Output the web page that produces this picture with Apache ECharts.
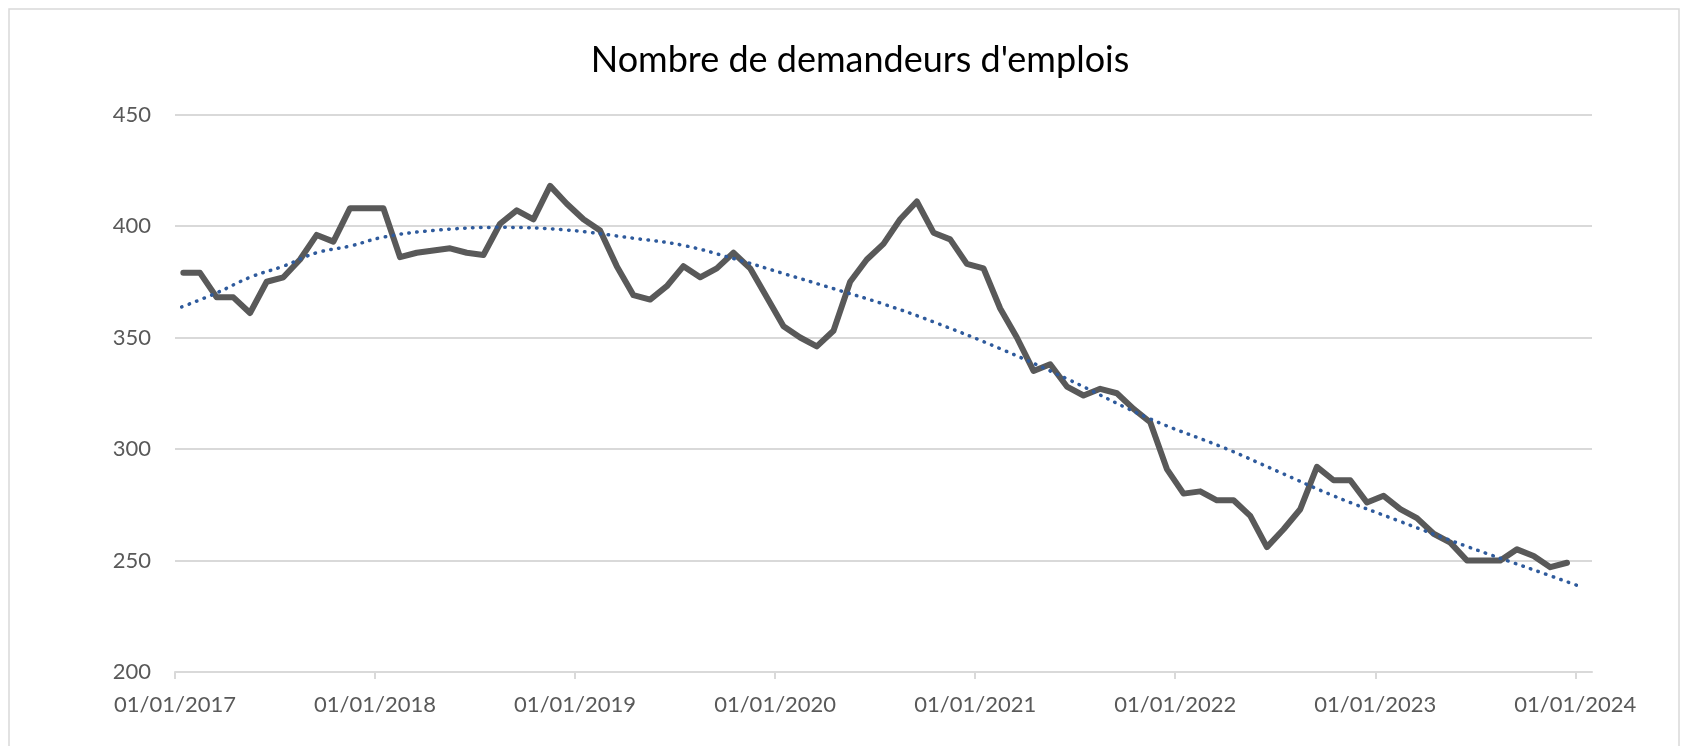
<!DOCTYPE html>
<html>
<head>
<meta charset="utf-8">
<script src="https://cdn.jsdelivr.net/npm/echarts@6/dist/echarts.min.js"></script>
<style>
  html, body { margin: 0; padding: 0; background: #fff; }
  #container { width: 1686px; height: 746px; }
</style>
</head>
<body>
<div id="container"></div>
<script>
var dom = document.getElementById("container");
var myChart = echarts.init(dom);

// monthly values, Jan 2017 -> Dec 2023
var startYear = 2017;
var values = [
    379, 379, 368, 368, 361, 375, 377, 385, 396, 393, 408, 408,
    408, 386, 388, 389, 390, 388, 387, 401, 407, 403, 418, 410,
    403, 398, 382, 369, 367, 373, 382, 377, 381, 388, 381, 368,
    355, 350, 346, 353, 375, 385, 392, 403, 411, 397, 394, 383,
    381, 363, 350, 335, 338, 328, 324, 327, 325, 318, 312, 291,
    280, 281, 277, 277, 270, 256, 264, 273, 292, 286, 286, 276,
    279, 273, 269, 262, 258, 250, 250, 250, 255, 252, 247, 249
];

// dotted trend line (x in months since Jan 2017)
var trendX = [0.4, 2.5, 4.5, 6.5, 8.5, 10.5, 12.5, 15.5, 19.5, 23.5, 27.5, 30.5, 33.5,
    36.5, 39.5, 42.5, 45.5, 49.5, 53.5, 58.5, 63, 66.2, 69.5, 73.5, 77.5, 81.5, 84.2];
var trendY = [363.7, 370, 377, 382, 388, 391, 395, 398, 399.4, 398.2, 394.5, 391.3, 385.4,
    378.7, 371.9, 365, 357, 345, 331.5, 313.5, 300.3, 289.8, 279, 267.5, 256.3, 245.8, 238.6];

var yearTicks = [0, 12, 24, 36, 48, 60, 72, 84];

var lineData = values.map(function (v, i) { return [i + 0.5, v]; });
var trendData = trendX.map(function (x, i) { return [x, trendY[i]]; });

var option = {
    backgroundColor: '#ffffff',
    animation: false,
    title: {
        text: "Nombre de demandeurs d'emplois",
        left: 855,
        top: 37,
        textAlign: 'center',
        textStyle: {
            fontFamily: 'Lato',
            fontWeight: 'normal',
            fontSize: 36,
            color: '#000000'
        }
    },
    graphic: [{
        type: 'rect',
        shape: { x: 9, y: 9, width: 1670, height: 760 },
        style: { fill: 'none', stroke: '#D9D9D9', lineWidth: 1.5 },
        silent: true
    }],
    grid: {
        left: 175,
        right: 94,
        top: 114.5,
        bottom: 74
    },
    xAxis: {
        type: 'value',
        min: 0,
        max: 85,
        interval: 12,
        axisLine: { show: true, lineStyle: { color: '#D9D9D9', width: 2 } },
        axisTick: {
            show: true,
            length: 7,
            customValues: yearTicks,
            lineStyle: { color: '#D9D9D9', width: 2 }
        },
        axisLabel: {
            customValues: yearTicks,
            margin: 22,
            fontFamily: 'Lato',
            fontSize: 22,
            color: '#595959',
            formatter: function (v) {
                return '01/01/' + (startYear + Math.round(v / 12));
            }
        },
        splitLine: { show: false }
    },
    yAxis: {
        type: 'value',
        min: 200,
        max: 450,
        interval: 50,
        axisLine: { show: false },
        axisTick: { show: false },
        axisLabel: {
            margin: 24,
            fontFamily: 'Lato',
            fontSize: 22,
            color: '#595959'
        },
        splitLine: { lineStyle: { color: '#D9D9D9', width: 2 } }
    },
    series: [{
        type: 'line',
        data: lineData,
        showSymbol: false,
        lineStyle: { color: '#595959', width: 6, cap: 'round', join: 'round' },
        z: 3
    }, {
        type: 'line',
        data: trendData,
        showSymbol: false,
        smooth: 0.4,
        lineStyle: { color: '#2E5A9C', width: 3.5, type: [0.5, 7.5], cap: 'round' },
        z: 4
    }]
};

if (option && typeof option === "object") {
    myChart.setOption(option, true);
}
</script>
</body>
</html>
